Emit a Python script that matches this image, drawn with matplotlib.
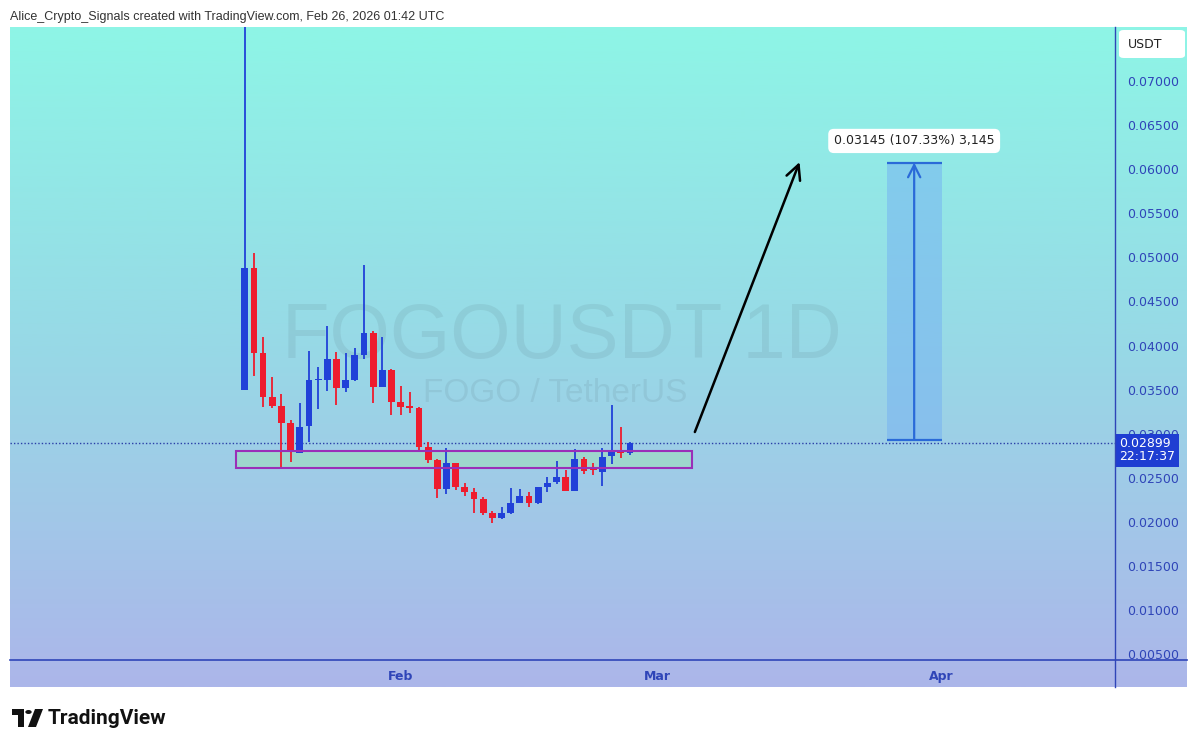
import numpy as np
import pandas as pd
import matplotlib; matplotlib.use("Agg")
import matplotlib.pyplot as plt
import matplotlib.dates as mdates
import matplotlib.transforms as mtransforms
from matplotlib.patches import Rectangle, FancyBboxPatch, Polygon, Circle
from matplotlib.lines import Line2D

# daily candles, FOGO/USDT
dates = pd.date_range("2026-01-15", "2026-02-26", freq="D")
opens = [0.03497, 0.04880, 0.03919, 0.03413, 0.03310, 0.03125, 0.02785, 0.03088, 0.03610, 0.03610,
         0.03844, 0.03515, 0.03610, 0.03893, 0.04139, 0.03533, 0.03723, 0.03363, 0.03310, 0.03295,
         0.02850, 0.02702, 0.02373, 0.02665, 0.02393, 0.02343, 0.02256, 0.02098, 0.02041, 0.02105,
         0.02210, 0.02294, 0.02210, 0.02393, 0.02456, 0.02506, 0.02351, 0.02713, 0.02600, 0.02569,
         0.02747, 0.02820, 0.02778]
highs = [0.09000, 0.05053, 0.04100, 0.03647, 0.03450, 0.03156, 0.03352, 0.03942, 0.03760, 0.04222,
         0.03930, 0.03919, 0.03976, 0.04913, 0.04165, 0.04094, 0.03730, 0.03541, 0.03477, 0.03300,
         0.02910, 0.02710, 0.02842, 0.02670, 0.02445, 0.02381, 0.02280, 0.02127, 0.02173, 0.02381,
         0.02370, 0.02343, 0.02400, 0.02506, 0.02694, 0.02589, 0.02823, 0.02740, 0.02665, 0.02835,
         0.03326, 0.03080, 0.02910]
lows = [0.03497, 0.03655, 0.03307, 0.03288, 0.02611, 0.02683, 0.02780, 0.02910, 0.03277, 0.03488,
        0.03326, 0.03477, 0.03600, 0.03844, 0.03352, 0.03530, 0.03212, 0.03210, 0.03238, 0.02816,
        0.02665, 0.02268, 0.02317, 0.02360, 0.02294, 0.02098, 0.02078, 0.01991, 0.02030, 0.02090,
        0.02210, 0.02166, 0.02200, 0.02343, 0.02430, 0.02350, 0.02350, 0.02543, 0.02532, 0.02407,
        0.02657, 0.02720, 0.02760]
closes = [0.04880, 0.03919, 0.03413, 0.03310, 0.03125, 0.02796, 0.03080, 0.03609, 0.03620, 0.03844,
          0.03515, 0.03610, 0.03893, 0.04139, 0.03533, 0.03723, 0.03363, 0.03307, 0.03295, 0.02846,
          0.02702, 0.02373, 0.02665, 0.02393, 0.02343, 0.02256, 0.02098, 0.02041, 0.02100, 0.02211,
          0.02294, 0.02210, 0.02393, 0.02445, 0.02513, 0.02351, 0.02713, 0.02581, 0.02590, 0.02740,
          0.02815, 0.02778, 0.02899]

last_price = 0.02899
countdown = "22:17:37"
zone_low, zone_high = 0.02608, 0.02808
zone_start, zone_end = "2026-01-14", "2026-03-04 19:00"
proj_base, proj_target = 0.02930, 0.06075
proj_start, proj_end = "2026-03-26", "2026-04-01"
proj_label = "0.03145 (107.33%) 3,145"
arrow_from = ("2026-03-05 02:00", 0.0302)
arrow_to = ("2026-03-16 12:00", 0.0608)
price_ticks = [0.005, 0.010, 0.015, 0.020, 0.025, 0.030, 0.035, 0.040, 0.045, 0.050, 0.055, 0.060, 0.065, 0.070]
month_ticks = ["2026-02-01", "2026-03-01", "2026-04-01"]
month_labels = ["Feb", "Mar", "Apr"]

W, H = 1200, 747
UP, DOWN = "#2141d8", "#ee1c2e"
AXIS_BLUE = "#2f45b8"


def fx(x): return x / W
def fy(y): return 1 - y / H


def main():
    fig = plt.figure(figsize=(W / 100, H / 100), dpi=100)
    fig.patch.set_facecolor("white")

    # gradient backdrop for chart + scales
    bg = fig.add_axes([fx(10), fy(687), fx(1177), 660 / H])
    stops = np.array([[142, 245, 230], [152, 216, 230], [172, 182, 234]]) / 255
    t = np.linspace(0, 1, 256)
    grad = np.stack([np.interp(t, [0, 0.5, 1], stops[:, c]) for c in range(3)], axis=1)
    bg.imshow(grad[:, None, :], aspect="auto", extent=[0, 1, 0, 1])
    bg.axis("off")

    ax = fig.add_axes([fx(10), fy(660), fx(1105), 633 / H])
    ax.set_facecolor("none")
    for s in ax.spines.values():
        s.set_visible(False)

    feb1 = mdates.date2num(pd.Timestamp("2026-02-01"))
    ax.set_xlim(feb1 - 42.6, feb1 + 77.9)
    ax.set_ylim(0.00435, 0.07612)

    # watermark
    ax.text(0.4995, 0.477, "FOGOUSDT 1D", transform=ax.transAxes, ha="center", va="baseline",
            fontsize=56, family="Liberation Sans", color="#56707c", alpha=0.13, zorder=1)
    ax.text(0.4932, 0.4076, "FOGO / TetherUS", transform=ax.transAxes, ha="center", va="baseline",
            fontsize=24, family="Liberation Sans", color="#56707c", alpha=0.13, zorder=1)

    # candles
    x = mdates.date2num(dates)
    o, h, l, c = map(np.array, (opens, highs, lows, closes))
    cols = np.where(c >= o, UP, DOWN)
    ax.vlines(x, l, h, colors=cols, lw=1.3, zorder=4)
    body = np.maximum(np.abs(c - o), 0.00012)
    ax.bar(x, body, bottom=np.minimum(o, c), width=0.74, color=cols, linewidth=0, zorder=5)

    # support zone
    zs, ze = mdates.date2num(pd.Timestamp(zone_start)), mdates.date2num(pd.Timestamp(zone_end))
    ax.add_patch(Rectangle((zs, zone_low), ze - zs, zone_high - zone_low, facecolor="#9fe0b4",
                           alpha=0.5, edgecolor="none", zorder=2))
    ax.add_patch(Rectangle((zs, zone_low), ze - zs, zone_high - zone_low, facecolor="none",
                           edgecolor="#9a2fb8", lw=1.5, zorder=6))

    # last price line
    ax.axhline(last_price, color="#2a3fa8", ls=(0, (1, 1.5)), lw=1.0, zorder=3)

    # projection box
    ps, pe = mdates.date2num(pd.Timestamp(proj_start)), mdates.date2num(pd.Timestamp(proj_end))
    pm = (ps + pe) / 2
    ax.add_patch(Rectangle((ps, proj_base), pe - ps, proj_target - proj_base, facecolor="#74b0f2",
                           alpha=0.5, edgecolor="none", zorder=2))
    ax.hlines([proj_base, proj_target], ps, pe, color="#2a6ad8", lw=1.6, zorder=3)
    ax.annotate("", xy=(pm, proj_target), xytext=(pm, proj_base),
                arrowprops=dict(arrowstyle="->", color="#2a6ad8", lw=1.6, mutation_scale=22,
                                shrinkA=0, shrinkB=0), zorder=3)
    ax.text(pm, 0.0632, proj_label, ha="center", va="center", fontsize=9, color="#222",
            bbox=dict(boxstyle="round,pad=0.45", fc="white", ec="none"), zorder=7)

    # breakout arrow
    a0 = (mdates.date2num(pd.Timestamp(arrow_from[0])), arrow_from[1])
    a1 = (mdates.date2num(pd.Timestamp(arrow_to[0])), arrow_to[1])
    ax.annotate("", xy=a1, xytext=a0,
                arrowprops=dict(arrowstyle="->", color="black", lw=1.8, mutation_scale=26,
                                shrinkA=0, shrinkB=0), zorder=7)

    # scales
    ax.yaxis.tick_right()
    ax.set_yticks(price_ticks)
    ax.set_yticklabels([f"{v:.5f}" for v in price_ticks])
    ax.tick_params(axis="y", length=0, pad=9, labelsize=9, labelcolor=AXIS_BLUE)
    ax.set_xticks([mdates.date2num(pd.Timestamp(d)) for d in month_ticks])
    ax.set_xticklabels(month_labels, fontweight="semibold")
    ax.tick_params(axis="x", length=0, pad=7, labelsize=9, labelcolor=AXIS_BLUE)

    tr = mtransforms.blended_transform_factory(ax.transAxes, ax.transData)
    ax.text(1.0035, 0.02812, f"{last_price:.5f}\n{countdown}", transform=tr, ha="left", va="center",
            fontsize=9, color="white", linespacing=1.0, clip_on=False, zorder=8,
            bbox=dict(boxstyle="square,pad=0.3", fc="#1f3ed2", ec="none"))

    fig.add_artist(Line2D([fx(1115), fx(1115)], [fy(27), fy(687)], color=AXIS_BLUE, lw=1.0))
    fig.add_artist(Line2D([fx(10), fx(1187)], [fy(660), fy(660)], color=AXIS_BLUE, lw=1.2))

    fig.patches.append(FancyBboxPatch((fx(1119), fy(58)), fx(66), 28 / H, transform=fig.transFigure,
                                      boxstyle="round,pad=0,rounding_size=0.004", fc="white", ec="none"))
    fig.text(fx(1128), fy(44), "USDT", fontsize=9, color="#222", va="center")

    fig.text(fx(10), fy(17), "Alice_Crypto_Signals created with TradingView.com, Feb 26, 2026 01:42 UTC",
             fontsize=9.0, family="Liberation Sans", color="#333", va="center")

    # TradingView logo
    def P(pts): return [(fx(a), fy(b)) for a, b in pts]
    fig.patches.append(Polygon(P([(12, 709), (24, 709), (24, 727), (18, 727), (18, 715), (12, 715)]),
                               closed=True, transform=fig.transFigure, fc="#111", ec="none"))
    fig.patches.append(Circle((fx(28.5), fy(712)), 3.2 / W, transform=fig.transFigure, fc="#111", ec="none"))
    fig.patches.append(Polygon(P([(35, 709), (43, 709), (36, 727), (28, 727)]),
                               closed=True, transform=fig.transFigure, fc="#111", ec="none"))
    fig.text(fx(48), fy(718), "TradingView", fontsize=15, fontweight="bold", family="Roboto",
             color="#111", va="center")

    fig.savefig("out.png", dpi=100)


if __name__ == "__main__":
    main()
